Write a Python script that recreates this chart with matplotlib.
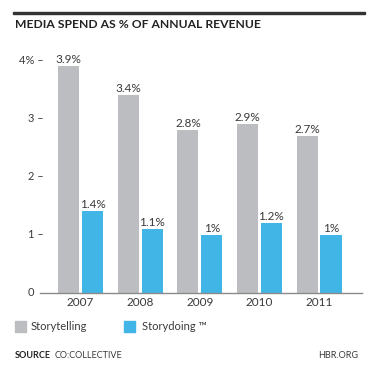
import matplotlib.pyplot as plt
import matplotlib.transforms as mtransforms
import numpy as np

years = ['2007', '2008', '2009', '2010', '2011']
storytelling = [3.9, 3.4, 2.8, 2.9, 2.7]
storydoing = [1.4, 1.1, 1.0, 1.2, 1.0]
story_labels = ['3.9%', '3.4%', '2.8%', '2.9%', '2.7%']
doing_labels = ['1.4%', '1.1%', '1%', '1.2%', '1%']
yticks = [0, 1, 2, 3, 4]
ytick_labels = ['0', '1 –', '2 –', '3 –', '4% –']

grey = '#BCBDC1'
blue = '#41B6E6'
text_c = '#3a3a3a'
plt.rcParams['font.family'] = ['Lato', 'DejaVu Sans']

W, H = 371, 373
fig = plt.figure(figsize=(W / 100, H / 100), dpi=100)

# axes placed in pixel coords: left 40, right 362, y=0 at 293, y=4 at 60
ax = fig.add_axes([40 / W, (H - 293) / H, 322 / W, (293 - 60) / H])
x = np.arange(len(years))
w = 0.355
ax.bar(x - 0.2, storytelling, w, color=grey, label='Storytelling')
ax.bar(x + 0.2, storydoing, w, color=blue, label='Storydoing ™')
for i in range(len(years)):
    ax.text(x[i] - 0.2, storytelling[i] + 0.02, story_labels[i], ha='center', va='bottom',
            fontsize=8.5, color=text_c)
    ax.text(x[i] + 0.2, storydoing[i] + 0.02, doing_labels[i], ha='center', va='bottom',
            fontsize=8.5, color=text_c)

ax.set_xlim(-0.68, 4.72)
ax.set_ylim(0, 4)
ax.set_xticks(x)
ax.set_xticklabels(years, fontsize=8.5, color=text_c)
ax.set_yticks([])
ax.tick_params(axis='x', length=0, pad=3)
for s in ['top', 'right', 'left']:
    ax.spines[s].set_visible(False)
ax.spines['bottom'].set_color('#8a8a8a')
ax.spines['bottom'].set_linewidth(1)

# y tick labels with dashes
ytrans = mtransforms.blended_transform_factory(fig.transFigure, ax.transData)
for v, lab in zip(yticks, ytick_labels):
    xr = 44 if v > 0 else 34
    ax.text(xr / W, v, lab, transform=ytrans, ha='right', va='center', fontsize=8,
            color=text_c, clip_on=False)

# top rule and title
fig.patches.append(plt.Rectangle((13 / W, 1 - 14 / H), 352 / W, 1.6 / H, color='#333333',
                                 transform=fig.transFigure))
fig.text(15 / W, 1 - 25 / H, 'MEDIA SPEND AS % OF ANNUAL REVENUE', fontsize=8.7, fontweight='bold',
         color='#222222', va='center')

# legend
fig.patches.append(plt.Rectangle((15 / W, 1 - 332 / H), 11 / W, 11 / H, color=grey,
                                 transform=fig.transFigure))
fig.text(31 / W, 1 - 326 / H, 'Storytelling', fontsize=8, color=text_c, va='center')
fig.patches.append(plt.Rectangle((124 / W, 1 - 332 / H), 11 / W, 11 / H, color=blue,
                                 transform=fig.transFigure))
fig.text(142 / W, 1 - 326 / H, 'Storydoing ™', fontsize=8, color=text_c, va='center')

# footer
fig.text(15 / W, 1 - 355 / H, 'SOURCE', fontsize=6.5, fontweight='bold', color='#222222', va='center')
fig.text(55 / W, 1 - 355 / H, 'CO:COLLECTIVE', fontsize=6.5, color=text_c, va='center')
fig.text(358 / W, 1 - 355 / H, 'HBR.ORG', fontsize=6.5, color=text_c, va='center', ha='right')

fig.savefig('out.png', dpi=100)
